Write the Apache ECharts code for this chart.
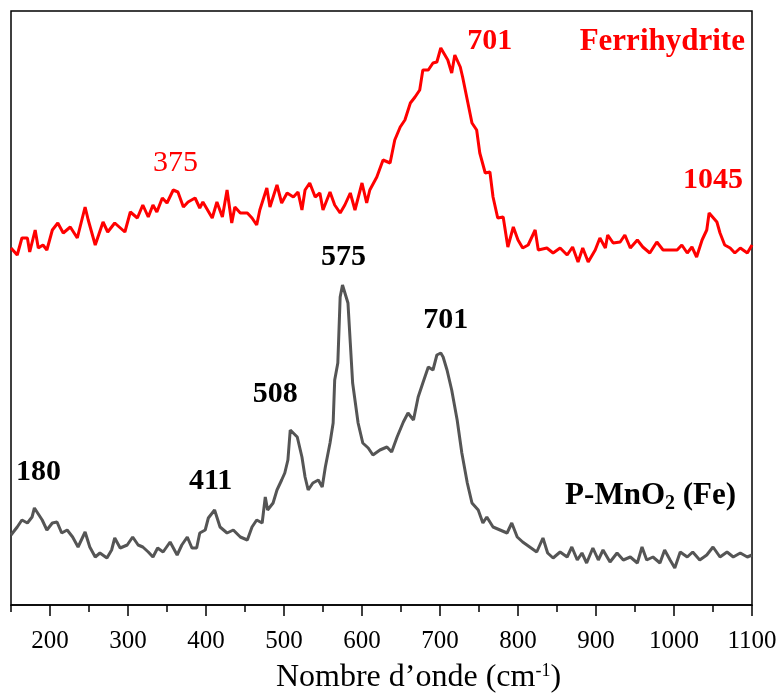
<!DOCTYPE html>
<html>
<head>
<meta charset="utf-8">
<script src="https://cdn.jsdelivr.net/npm/echarts@6/dist/echarts.min.js"></script>
<style>
  html, body { margin: 0; padding: 0; background: #fff; }
  #chart { width: 781px; height: 694px; }
</style>
</head>
<body>
<div id="chart"></div>
<script>
// Raman spectra: wavenumber (cm-1) and stacked intensity (a.u.)
const ferriWave = [150,158,164,171,174,181,185,191,196,203,210,217,226,235,245,249,258,268,274,283,296,303,312,319,326,332,337,344,350,358,364,371,377,386,392,396,408,414,421,427,433,437,444,453,459,465,469,478,482,491,497,504,512,518,523,527,533,540,546,550,559,565,572,578,585,591,600,606,610,619,627,636,642,649,655,662,668,674,678,685,691,696,701,710,715,719,726,729,735,741,747,751,758,764,768,774,781,787,794,800,806,813,822,826,837,845,854,863,870,877,883,890,899,905,912,915,922,931,937,944,953,960,969,978,986,995,1004,1010,1017,1023,1029,1036,1042,1045,1055,1059,1065,1072,1078,1085,1094,1100];
const ferriInt = [357,350,367,367,353,375,357,360,355,375,382,372,378,367,398,385,360,383,373,382,373,393,387,400,388,400,393,407,402,415,413,398,403,407,397,403,387,403,388,415,382,398,392,392,387,380,395,417,398,420,402,412,408,413,395,415,422,408,412,395,413,400,392,400,412,395,422,402,415,428,445,442,465,478,485,502,508,515,535,535,542,543,557,545,532,550,538,528,505,482,475,452,432,433,408,387,388,358,378,365,357,360,375,355,357,352,357,350,358,343,357,343,355,367,357,370,362,363,370,357,365,358,352,363,355,355,355,360,352,358,348,365,375,392,383,372,360,357,352,357,352,360];

const mnoWave = [150,158,164,171,177,180,190,196,203,209,215,222,229,236,245,251,258,264,273,279,283,290,299,306,313,319,326,332,338,345,354,363,369,376,382,388,392,399,403,411,418,427,435,444,453,459,465,472,476,479,486,491,497,501,505,508,517,523,527,531,537,544,549,553,559,563,565,569,572,575,582,585,588,595,601,608,614,623,632,638,645,653,659,666,672,678,685,691,696,701,704,709,715,722,728,735,741,749,755,760,768,777,786,792,799,806,815,824,832,838,845,854,863,869,876,882,888,896,903,909,918,927,935,944,953,959,965,973,982,988,995,1001,1008,1017,1024,1033,1042,1050,1059,1068,1076,1085,1094,1100];
const mnoInt = [70,78,85,82,88,97,85,75,82,83,72,75,68,58,73,58,48,52,47,55,67,57,60,68,60,58,53,48,57,53,63,50,60,68,57,57,72,75,87,95,78,72,75,68,65,78,85,82,108,95,102,115,125,132,145,175,168,148,128,115,122,125,118,138,162,182,225,242,308,320,302,262,222,182,162,157,150,155,158,153,168,183,192,185,208,222,238,235,250,252,248,235,215,185,152,122,102,95,82,88,78,75,72,82,68,63,58,53,67,52,47,53,48,58,45,52,42,57,45,55,43,52,45,48,42,58,45,48,42,55,45,37,53,48,53,45,50,58,48,53,48,52,48,50];

// Axis ticks
const majorTicks = [200,300,400,500,600,700,800,900,1000,1100];
const minorTicks = [150,250,350,450,550,650,750,850,950,1050];

// Peak annotations
const ferriPeaks = [375, 701, 1045];
const mnoPeaks = [180, 411, 508, 575, 701];
const ferriName = 'Ferrihydrite';
const mnoName = 'P-MnO{sub|2} (Fe)';

const serif = "'Times New Roman', 'Liberation Serif', serif";

function pairs(xs, ys) { return xs.map((x, i) => [x, ys[i]]); }
function valueAt(xs, ys, x) {
  let best = 0;
  xs.forEach((v, i) => { if (Math.abs(v - x) < Math.abs(xs[best] - x)) best = i; });
  return ys[best];
}

// label offsets (px) from each peak
const ferriOffsets = { 375: [-11, -39], 701: [49, -7], 1045: [4, -33] };
const ferriWeights = { 375: 'normal', 701: 'bold', 1045: 'bold' };
const mnoOffsets = { 180: [4, -36], 411: [-4, -29], 508: [-15, -36], 575: [1, -28], 701: [5, -33] };

function peakMarks(xs, ys, peaks, offsets, color, weights) {
  return peaks.map(p => ({
    coord: [p, valueAt(xs, ys, p)],
    symbolSize: 0,
    label: {
      show: true, position: 'inside', formatter: String(p),
      offset: offsets[p], color: color,
      fontFamily: serif, fontSize: 30,
      fontWeight: weights ? weights[p] : 'bold'
    }
  }));
}

const chart = echarts.init(document.getElementById('chart'), null, { renderer: 'canvas' });
chart.setOption({
  animation: false,
  backgroundColor: '#fff',
  grid: {
    left: 11, right: 29, top: 11, bottom: 89, outerBoundsMode: 'none',
    show: true, borderColor: '#000', borderWidth: 1.5, backgroundColor: 'transparent'
  },
  xAxis: [{
    type: 'value', min: 150, max: 1100,
    axisLine: { show: true, lineStyle: { color: '#000', width: 1.5 } },
    axisTick: { show: true, customValues: majorTicks, length: 11, lineStyle: { color: '#000', width: 1.5 } },
    axisLabel: { show: true, customValues: majorTicks, margin: 24, color: '#000', fontFamily: serif, fontSize: 25, formatter: v => String(v) },
    splitLine: { show: false },
    name: '{a|Nombre d\u2019onde (cm}{s|-1}{a|)}',
    nameLocation: 'middle', nameGap: 57,
    nameTextStyle: {
      padding: [0, 0, 0, 74],
      rich: {
        a: { fontFamily: serif, fontSize: 32, color: '#000' },
        s: { fontFamily: serif, fontSize: 18, color: '#000', verticalAlign: 'top', padding: [0, 0, 14, 0] }
      }
    }
  }, {
    type: 'value', min: 150, max: 1100, position: 'bottom',
    axisLine: { show: false },
    axisTick: { show: true, customValues: minorTicks, length: 7, lineStyle: { color: '#000', width: 1.5 } },
    axisLabel: { show: false },
    splitLine: { show: false }
  }],
  yAxis: { type: 'value', min: 0, max: 594, show: false, splitLine: { show: false } },
  series: [{
    name: 'Ferrihydrite', type: 'line', xAxisIndex: 0,
    data: pairs(ferriWave, ferriInt), showSymbol: false, smooth: false,
    lineStyle: { color: '#ff0000', width: 3 }, itemStyle: { color: '#ff0000' },
    markPoint: {
      symbol: 'circle', symbolSize: 0,
      data: peakMarks(ferriWave, ferriInt, ferriPeaks, ferriOffsets, '#ff0000', ferriWeights).concat([{
        coord: [985, 563], symbolSize: 0,
        label: { show: true, position: 'inside', formatter: ferriName, color: '#ff0000', fontFamily: serif, fontSize: 31, fontWeight: 'bold' }
      }])
    }
  }, {
    name: 'P-MnO2 (Fe)', type: 'line', xAxisIndex: 0,
    data: pairs(mnoWave, mnoInt), showSymbol: false, smooth: false,
    lineStyle: { color: '#555555', width: 3 }, itemStyle: { color: '#555555' },
    markPoint: {
      symbol: 'circle', symbolSize: 0,
      data: peakMarks(mnoWave, mnoInt, mnoPeaks, mnoOffsets, '#000').concat([{
        coord: [970, 109], symbolSize: 0,
        label: {
          show: true, position: 'inside', formatter: mnoName, color: '#000',
          fontFamily: serif, fontSize: 31, fontWeight: 'bold',
          rich: { sub: { fontFamily: serif, fontSize: 20, fontWeight: 'bold', color: '#000', verticalAlign: 'middle', padding: [15, 0, 0, 0] } }
        }
      }])
    }
  }]
});
</script>
</body>
</html>
